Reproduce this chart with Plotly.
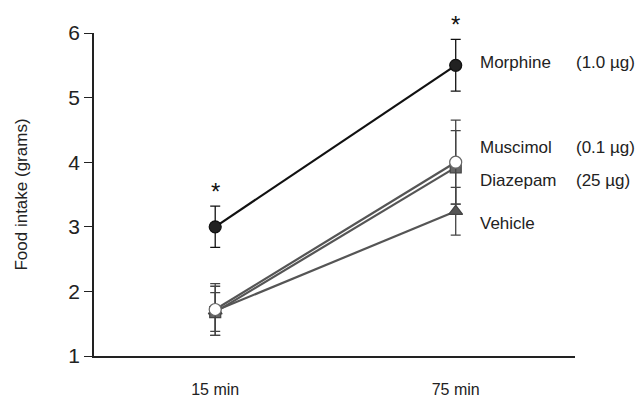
import plotly.graph_objects as go

times = ["15 min", "75 min"]
morphine = [3.0, 5.5]
morphine_err = [0.32, 0.40]
muscimol = [1.72, 4.0]
muscimol_err = [0.40, 0.65]
diazepam = [1.68, 3.92]
diazepam_err = [0.30, 0.57]
vehicle = [1.70, 3.24]
vehicle_err = [0.38, 0.37]
y_ticks = [1, 2, 3, 4, 5, 6]

font = "Liberation Sans, Arial, Helvetica, sans-serif"
fig = go.Figure()

def add(y, err, color, line_color, symbol, size, mcolor, mline):
    fig.add_trace(go.Scatter(
        x=times, y=y, mode="lines+markers",
        line=dict(color=line_color, width=2.2),
        marker=dict(symbol=symbol, size=size, color=mcolor,
                    line=dict(color=mline, width=1.2)),
        error_y=dict(type="data", array=err, visible=True, color=color,
                     thickness=1.3, width=5),
        showlegend=False, cliponaxis=False))

add(vehicle, vehicle_err, "#444", "#555", "triangle-up", 12, "#555", "#444")
add(diazepam, diazepam_err, "#444", "#555", "square", 11, "#666", "#444")
add(muscimol, muscimol_err, "#444", "#555", "circle", 12, "white", "#666")
add(morphine, morphine_err, "#111", "#111", "circle", 12, "#222", "#111")

anns = []
# significance asterisks
for t, v, e in zip(times, morphine, morphine_err):
    anns.append(dict(x=t, y=v + e, yref="y", xref="x", text="*", showarrow=False,
                     yanchor="middle", yshift=15, font=dict(size=24, color="#111", family=font)))

labels = [("Morphine", "(1.0 µg)", 5.55), ("Muscimol", "(0.1 µg)", 4.22),
          ("Diazepam", "(25 µg)", 3.71), ("Vehicle", "", 3.05)]
for name, dose, yv in labels:
    anns.append(dict(x=0.80, xref="paper", y=yv, yref="y", text=name, showarrow=False,
                     xanchor="left", borderpad=0, font=dict(size=17, color="#222", family=font)))
    if dose:
        anns.append(dict(x=0.999, xref="paper", y=yv, yref="y", text=dose, showarrow=False,
                         xanchor="left", borderpad=0, font=dict(size=17, color="#222", family=font)))

fig.update_layout(
    width=644, height=402,
    margin=dict(l=83, r=77, t=25, b=45),
    paper_bgcolor="white", plot_bgcolor="white",
    annotations=anns,
    font=dict(family=font, color="#222"),
    xaxis=dict(type="category", range=[-0.504, 1.496], showgrid=False, zeroline=False,
               showline=True, linecolor="#222", linewidth=1.5, ticks="",
               tickfont=dict(size=16), ticklabelstandoff=18),
    yaxis=dict(range=[1, 6], tickvals=y_ticks, showgrid=False, zeroline=False,
               showline=True, linecolor="#222", linewidth=1.5, ticks="outside",
               ticklen=8, tickwidth=1.3, tickcolor="#222", tickfont=dict(size=21),
               title=dict(text="Food intake (grams)", font=dict(size=17), standoff=36)),
)
fig.write_html("out.html")
